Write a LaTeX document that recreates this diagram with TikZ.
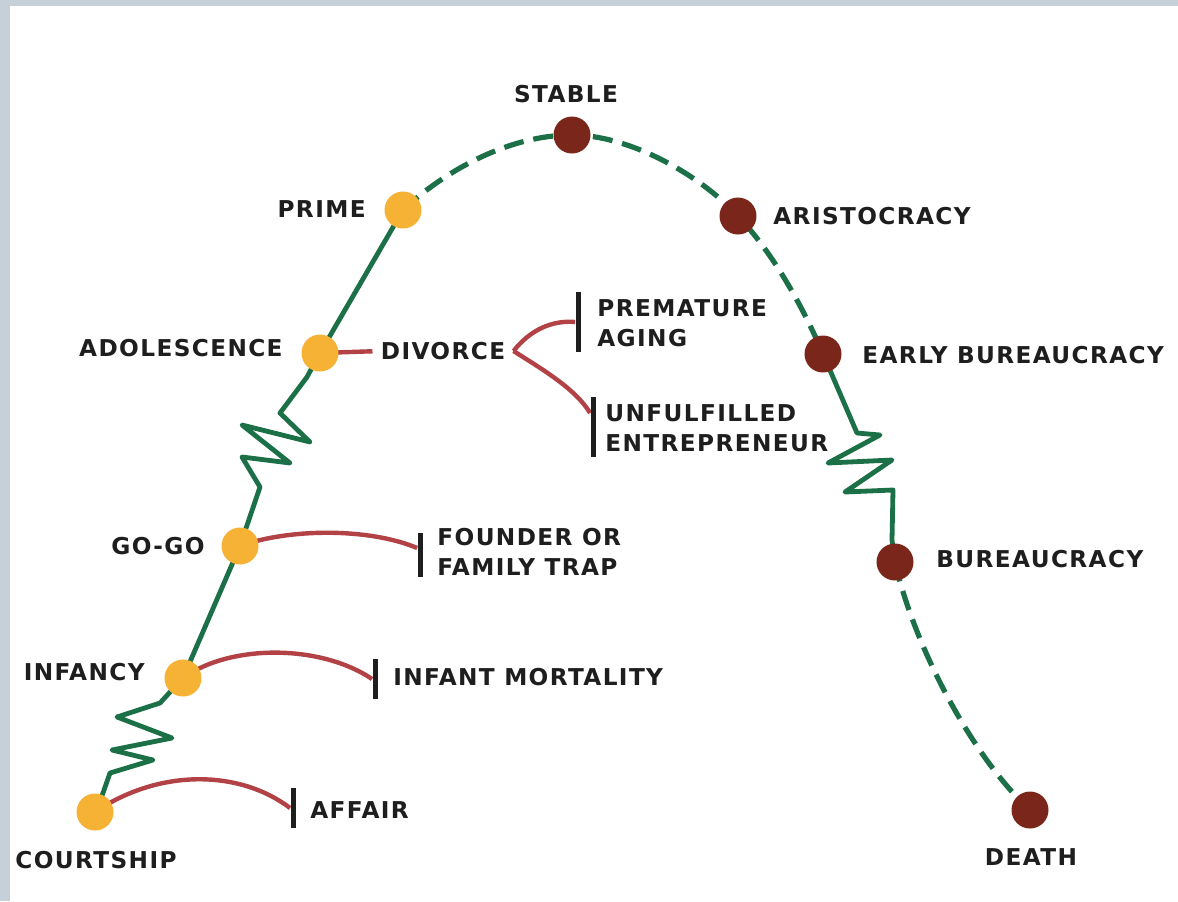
\documentclass[tikz,border=0pt]{standalone}
\usepackage{fontspec}
\newfontfamily\lblfont[LetterSpace=6]{DejaVu Sans}
\usetikzlibrary{arrows.meta}
\pgfdeclarelayer{bg}
\pgfsetlayers{bg,main}
\definecolor{bordergray}{RGB}{197,208,216}
\definecolor{lifegreen}{RGB}{28,112,72}
\definecolor{branchred}{RGB}{178,66,70}
\definecolor{dotorange}{RGB}{246,178,52}
\definecolor{dotbrown}{RGB}{122,38,26}
\definecolor{inkblack}{RGB}{30,30,30}
\begin{document}
\begin{tikzpicture}[x=0.5pt,y=-0.5pt,
  lbl/.style={inner sep=0pt, font=\lblfont\bfseries\fontsize{11.6}{15}\selectfont, text=inkblack, align=left},
  ydot/.style={circle, fill=dotorange, minimum size=18.5pt, inner sep=0pt},
  bdot/.style={circle, fill=dotbrown, minimum size=18.5pt, inner sep=0pt},
  lifeline/.style={draw=lifegreen, line width=2.4pt, line join=round, line cap=round},
  dashline/.style={draw=lifegreen, line width=2.6pt, dash pattern=on 10pt off 5pt},
  branch/.style={draw=branchred, line width=2.2pt},
  barn/.style={rectangle, fill=inkblack, minimum width=2.5pt, inner sep=0pt}
]
\useasboundingbox (0,0) rectangle (1178,901);
\begin{pgfonlayer}{bg}
\fill[bordergray] (0,0) rectangle (1178,901);
\fill[white] (10,6) rectangle (1178,901);
\end{pgfonlayer}

% stage dots
\node[ydot] (court) at (95,812) {};
\node[ydot] (infancy) at (183,678) {};
\node[ydot] (gogo) at (240,546) {};
\node[ydot] (adol) at (320,353) {};
\node[ydot] (prime) at (403,210) {};
\node[bdot] (stable) at (572,135) {};
\node[bdot] (aristo) at (738,216) {};
\node[bdot] (early) at (823,354) {};
\node[bdot] (bureau) at (895,562) {};
\node[bdot] (death) at (1030,810) {};

% stage labels
\node[lbl] (tcourt) at (96,860) {COURTSHIP};
\node[lbl, anchor=east] (tinf) at (145,672) {INFANCY};
\node[lbl, anchor=east] (tgogo) at (205,546) {GO-GO};
\node[lbl, anchor=east] (tadol) at (283,348) {ADOLESCENCE};
\node[lbl, anchor=east] (tprime) at (366,209) {PRIME};
\node[lbl] (tstable) at (566,94) {STABLE};
\node[lbl, anchor=west] (taristo) at (773,216) {ARISTOCRACY};
\node[lbl, anchor=west] (tearly) at (862,355) {EARLY BUREAUCRACY};
\node[lbl, anchor=west] (tbureau) at (936,559) {BUREAUCRACY};
\node[lbl] (tdeath) at (1031,857) {DEATH};
\node[lbl] (divorce) at (443,351) {DIVORCE};

% traps
\node[barn, minimum height=20pt] (baffair) at (293,808) {};
\node[lbl, anchor=west] (affair) at (310,810) {AFFAIR};
\node[barn, minimum height=20pt] (binf) at (375,679) {};
\node[lbl, anchor=west] (infmort) at (393,677) {INFANT MORTALITY};
\node[barn, minimum height=22pt] (bfound) at (420,555) {};
\node[lbl, anchor=west] (found) at (437,552) {FOUNDER OR\\FAMILY TRAP};
\node[barn, minimum height=30pt] (bprem) at (578,322) {};
\node[lbl, anchor=west] (prem) at (597,323) {PREMATURE\\AGING};
\node[barn, minimum height=30pt] (bunf) at (593,427) {};
\node[lbl, anchor=west] (unf) at (605,428) {UNFULFILLED\\ENTREPRENEUR};

\begin{pgfonlayer}{bg}
% life line
\draw[lifeline] (court.center) -- (103,793) -- (110,773) -- (153,760) -- (112,750) -- (172,738) -- (117,717) -- (160,703) -- (infancy.center);
\draw[lifeline] (infancy.center) -- (gogo.center);
\draw[lifeline] (gogo.center) -- (260,487) -- (242,457) -- (290,463) -- (242,425) -- (310,442) -- (280,413) -- (307,377) -- (adol.center);
\draw[lifeline] (adol.center) -- (prime.center);
\draw[dashline] (prime.center) .. controls (440,175) and (505,135) .. (stable.center)
  .. controls (630,135) and (700,175) .. (aristo.center)
  .. controls (770,250) and (800,300) .. (early.center);
\draw[lifeline] (early.center) -- (857,433) -- (880,435) -- (828,463) -- (892,460) -- (845,492) -- (893,490) -- (892,540) -- (bureau.center);
\draw[dashline] (bureau.center) .. controls (915,650) and (975,760) .. (death.center);
% branches
\draw[branch] (court.center) .. controls (160,768) and (240,770) .. (baffair.west);
\draw[branch] (infancy.center) .. controls (230,644) and (320,644) .. (binf.west);
\draw[branch] (gogo.center) .. controls (290,528) and (370,528) .. ([yshift=3.5pt]bfound.west);
\draw[branch, shorten >=4pt] (adol.center) -- (divorce.west);
\draw[branch] ([xshift=4pt]divorce.east) .. controls (530,330) and (552,320) .. (bprem.west);
\draw[branch] ([xshift=4pt]divorce.east) .. controls (540,368) and (575,388) .. ([yshift=7pt]bunf.west);
\end{pgfonlayer}
\end{tikzpicture}
\end{document}
